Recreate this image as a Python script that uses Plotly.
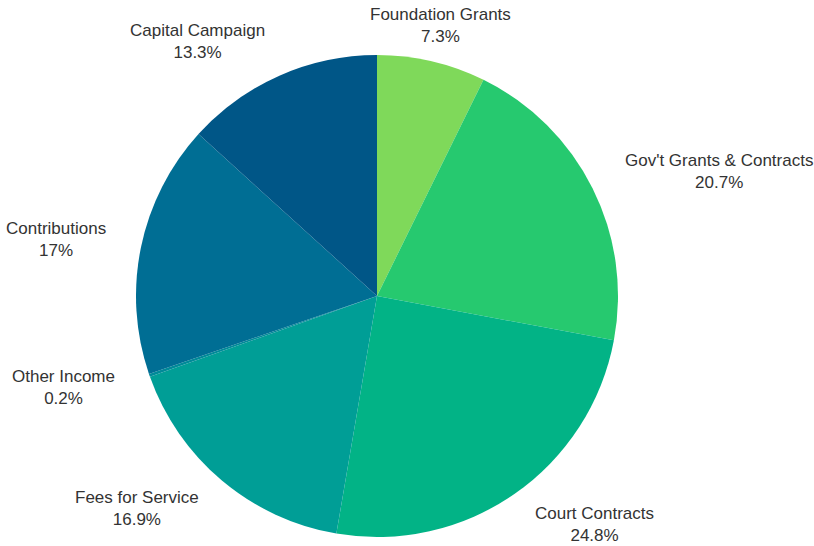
import math
import plotly.graph_objects as go

labels = ["Foundation Grants", "Gov't Grants & Contracts", "Court Contracts",
          "Fees for Service", "Other Income", "Contributions", "Capital Campaign"]
values = [7.3, 20.7, 24.8, 16.9, 0.2, 17, 13.3]
colors = ["#7fd95a", "#26c96f", "#02b386", "#009e96", "#008a98", "#006e94", "#005687"]

W, H = 814, 546
cx, cy, r = 377, 296, 241
label_r = 278
font = dict(family="Liberation Sans, Arial, sans-serif", size=17, color="#333333")

fig = go.Figure(go.Pie(
    labels=labels,
    values=values,
    sort=False,
    direction="clockwise",
    rotation=0,
    marker=dict(colors=colors, line=dict(width=0)),
    textinfo="none",
    showlegend=False,
    hoverinfo="label+value",
    domain=dict(x=[(cx - r) / W, (cx + r) / W], y=[(H - cy - r) / H, (H - cy + r) / H]),
))

# outside labels placed at slice mid-angles
total = sum(values)
cum = 0.0
annotations = []
for lab, v in zip(labels, values):
    mid = (cum + v / 2) / total * 2 * math.pi
    cum += v
    s, c = math.sin(mid), math.cos(mid)
    px = cx + label_r * s
    py = cy - label_r * c
    if abs(s) < 0.3:
        xa, xs = "center", 0
    elif s > 0:
        xa, xs = "left", -3
    else:
        xa, xs = "right", 3
    annotations.append(dict(
        x=px / W, y=1 - py / H, xref="paper", yref="paper",
        text=f"{lab}<br>{v:g}%", showarrow=False,
        xanchor=xa, yanchor="middle", align="center", xshift=xs,
        font=font,
    ))

fig.update_layout(
    width=W, height=H,
    margin=dict(l=0, r=0, t=0, b=0),
    paper_bgcolor="white",
    plot_bgcolor="white",
    annotations=annotations,
)

fig.write_html("out.html", config={"displayModeBar": False},
               post_script="document.body.style.margin='0';")
